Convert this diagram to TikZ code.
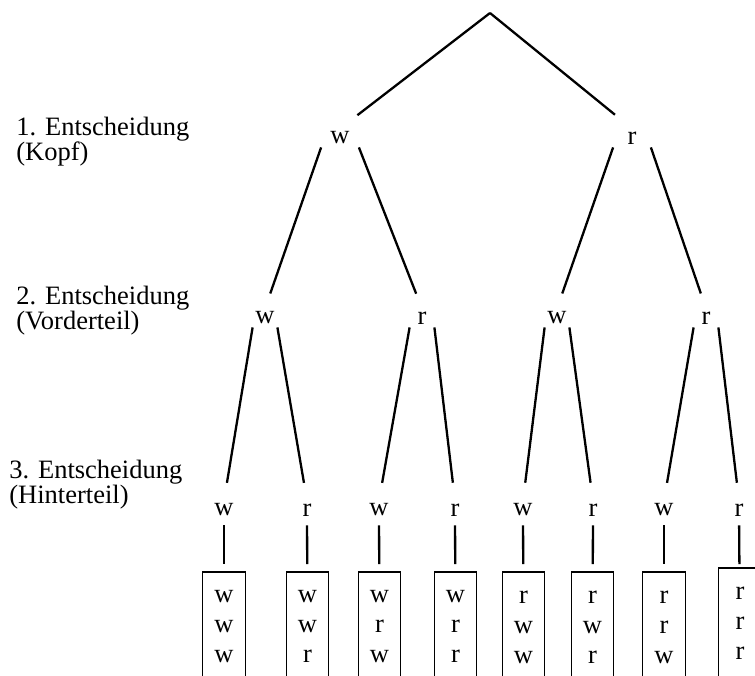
\documentclass[tikz,border=0pt]{standalone}
\usepackage{fontspec}
\setmainfont{Liberation Serif}
\tikzset{
  every node/.style={font=\fontsize{13.25}{12.3}\selectfont, inner sep=0pt},
  branch/.style={line width=1.15pt},
  boxline/.style={line width=0.55pt},
  lvlone/.style={minimum width=18.5pt, minimum height=9pt},
  lvltwo/.style={minimum width=12pt, minimum height=9pt},
  lvlthree/.style={minimum width=9pt, minimum height=9pt},
  outcome/.style={anchor=north, align=center, minimum width=21pt, inner ysep=9.2pt,
    text depth=20pt, font=\fontsize{13.25}{15}\selectfont},
  stage/.style={anchor=north west, align=left},
}

\begin{document}
\begin{tikzpicture}[x=0.5pt, y=-0.5pt]
  \useasboundingbox (0,0) rectangle (755,675);
  % stages
  \node[stage] (stage1) at (16,117) {1. Entscheidung\\(Kopf)};
  \node[stage] (stage2) at (16,286) {2. Entscheidung\\(Vorderteil)};
  \node[stage] (stage3) at (9,460) {3. Entscheidung\\(Hinterteil)};
  % nodes
  \coordinate (root) at (490,13);
  \node[lvlone] (w) at (340,138) {w};
  \node[lvlone] (r) at (632,138) {r};
  \node[lvltwo] (ww) at (265,318) {w};
  \node[lvltwo] (wr) at (422,318) {r};
  \node[lvltwo] (rw) at (557,318) {w};
  \node[lvltwo] (rr) at (706,318) {r};
  \node[lvlthree] (www) at (224,510) {w};
  \node[lvlthree] (wwr) at (307,510) {r};
  \node[lvlthree] (wrw) at (379,510) {w};
  \node[lvlthree] (wrr) at (455,510) {r};
  \node[lvlthree] (rww) at (523,510) {w};
  \node[lvlthree] (rwr) at (593,510) {r};
  \node[lvlthree] (rrw) at (664,510) {w};
  \node[lvlthree] (rrr) at (739,510) {r};
  % outcomes
  \node[outcome] (bwww) at (224,572) {w\\w\\w};
  \node[outcome] (bwwr) at (307.5,572) {w\\w\\r};
  \node[outcome] (bwrw) at (379.5,572) {w\\r\\w};
  \node[outcome] (bwrr) at (455.5,572) {w\\r\\r};
  \node[outcome] (brww) at (523.5,572) {r\\w\\w};
  \node[outcome] (brwr) at (592.5,572) {r\\w\\r};
  \node[outcome] (brrw) at (664,572) {r\\r\\w};
  \node[outcome] (brrr) at (740,568) {r\\r\\r};
  % lines
  \draw[branch, shorten >=11pt] (root) -- (w.north);
  \draw[branch, shorten >=11pt] (root) -- (r.north);
  \draw[branch, shorten >=8pt] (w.south west) -- (ww.north);
  \draw[branch, shorten >=8pt] (w.south east) -- (wr.north);
  \draw[branch, shorten >=8pt] (r.south west) -- (rw.north);
  \draw[branch, shorten >=8pt] (r.south east) -- (rr.north);
  \draw[branch, shorten >=9pt] (ww.south west) -- (www.north);
  \draw[branch, shorten >=9pt] (ww.south east) -- (wwr.north);
  \draw[branch, shorten >=9pt] (wr.south west) -- (wrw.north);
  \draw[branch, shorten >=9pt] (wr.south east) -- (wrr.north);
  \draw[branch, shorten >=9pt] (rw.south west) -- (rww.north);
  \draw[branch, shorten >=9pt] (rw.south east) -- (rwr.north);
  \draw[branch, shorten >=9pt] (rr.south west) -- (rrw.north);
  \draw[branch, shorten >=9pt] (rr.south east) -- (rrr.north);
  \draw[branch, shorten <=3pt, shorten >=4pt] (www) -- (bwww);
  \draw[branch, shorten <=3pt, shorten >=4pt] (wwr) -- (bwwr);
  \draw[branch, shorten <=3pt, shorten >=4pt] (wrw) -- (bwrw);
  \draw[branch, shorten <=3pt, shorten >=4pt] (wrr) -- (bwrr);
  \draw[branch, shorten <=3pt, shorten >=4pt] (rww) -- (brww);
  \draw[branch, shorten <=3pt, shorten >=4pt] (rwr) -- (brwr);
  \draw[branch, shorten <=3pt, shorten >=4pt] (rrw) -- (brrw);
  \draw[branch, shorten <=3pt, shorten >=2pt] (rrr) -- (brrr);
  % boxes
  \draw[boxline] (bwww.south west) |- (bwww.north east) -- (bwww.south east);
  \draw[boxline] (bwwr.south west) |- (bwwr.north east) -- (bwwr.south east);
  \draw[boxline] (bwrw.south west) |- (bwrw.north east) -- (bwrw.south east);
  \draw[boxline] (bwrr.south west) |- (bwrr.north east) -- (bwrr.south east);
  \draw[boxline] (brww.south west) |- (brww.north east) -- (brww.south east);
  \draw[boxline] (brwr.south west) |- (brwr.north east) -- (brwr.south east);
  \draw[boxline] (brrw.south west) |- (brrw.north east) -- (brrw.south east);
  \draw[boxline] (brrr.south west) |- (brrr.north east) -- (brrr.south east);
\end{tikzpicture}
\end{document}
